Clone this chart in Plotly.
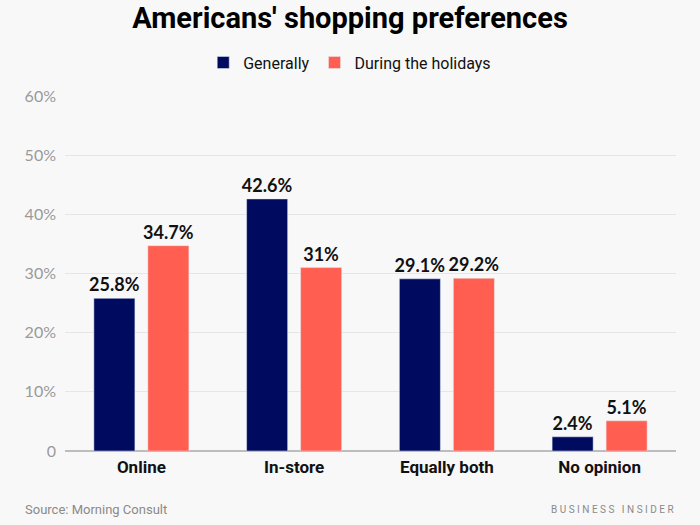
import plotly.graph_objects as go

categories = ["Online", "In-store", "Equally both", "No opinion"]
generally = [25.8, 42.6, 29.1, 2.4]
holidays = [34.7, 31, 29.2, 5.1]
generally_labels = ["25.8%", "42.6%", "29.1%", "2.4%"]
holidays_labels = ["34.7%", "31%", "29.2%", "5.1%"]
tick_vals = [0, 10, 20, 30, 40, 50, 60]
tick_text = ["0", "10%", "20%", "30%", "40%", "50%", "60%"]

NAVY = "#000a5e"
CORAL = "#ff5e50"
BG = "#f8f8f8"

fig = go.Figure()
fig.add_trace(go.Bar(
    x=categories, y=generally, name="Generally", marker_color=NAVY,
    text=generally_labels, textposition="outside", cliponaxis=False, constraintext="none",
    textfont=dict(family="Lato", size=18, color="#111111", weight="bold"),
))
fig.add_trace(go.Bar(
    x=categories, y=holidays, name="During the holidays", marker_color=CORAL,
    text=holidays_labels, textposition="outside", cliponaxis=False, constraintext="none",
    textfont=dict(family="Lato", size=18, color="#111111", weight="bold"),
))

fig.update_layout(
    width=700, height=525,
    paper_bgcolor=BG, plot_bgcolor=BG,
    margin=dict(l=65, r=24, t=96, b=74),
    barmode="group", bargap=0.293, bargroupgap=0.24,
    title=dict(text="<b>Americans' shopping preferences</b>", x=0.5, xanchor="center",
               y=0.966, yanchor="middle",
               font=dict(family="Roboto", size=29, color="#000000")),
    legend=dict(orientation="h", x=0.466, xanchor="center", y=1.094, yanchor="middle",
                font=dict(family="Roboto", size=16, color="#111111"),
                itemwidth=30, traceorder="normal", bgcolor="rgba(0,0,0,0)"),
    showlegend=True,
)
fig.update_yaxes(range=[0, 60], tickvals=tick_vals, ticktext=tick_text,
                 showgrid=True, gridcolor="#e6e6e6", gridwidth=1,
                 zeroline=True, zerolinecolor="#bdbdbd", zerolinewidth=1.5,
                 tickfont=dict(family="Lato", size=16, color="#9a9a9a"),
                 ticks="", ticklabelstandoff=8, showline=False)
fig.update_xaxes(tickfont=dict(family="Roboto", size=17, color="#111111", weight="bold"),
                 ticks="", showline=False, ticklabelstandoff=4)

fig.add_annotation(text="Source: Morning Consult", xref="paper", yref="paper",
                   x=-0.069, y=-0.166, xanchor="left", yanchor="middle", showarrow=False,
                   font=dict(family="Roboto", size=13, color="#8a8a8a"))
fig.add_annotation(text="B U S I N E S S   I N S I D E R", xref="paper", yref="paper",
                   x=1.0, y=-0.166, xanchor="right", yanchor="middle", showarrow=False,
                   font=dict(family="Roboto", size=10, color="#8a8a8a"))

fig.write_html("out.html", config={"displayModeBar": False},
               post_script="document.body.style.margin='0';document.body.style.background='#f8f8f8';document.body.style.overflow='hidden';")
